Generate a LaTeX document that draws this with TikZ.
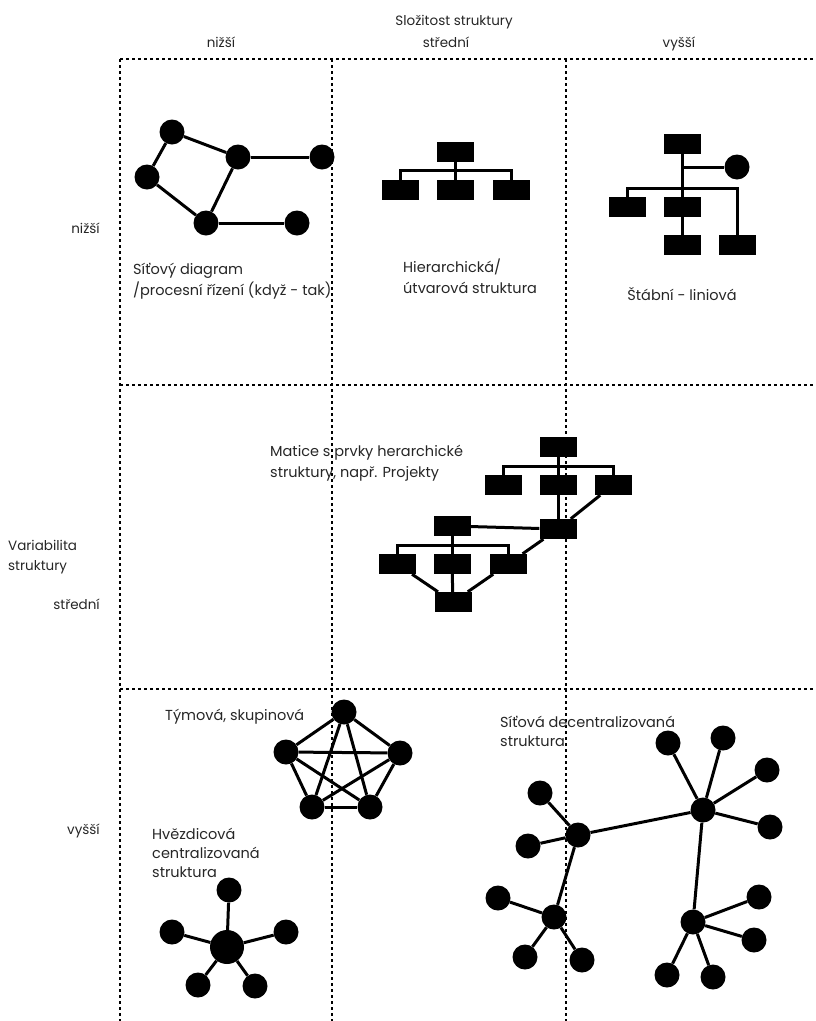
\documentclass[tikz,border=0pt]{standalone}
\usepackage{fontspec}
\setmainfont{Poppins}
\usetikzlibrary{positioning}

\begin{document}
\begin{tikzpicture}[x=1pt, y=-1pt,
  grid/.style={line width=1.3pt, dash pattern=on 3pt off 3pt},
  edge/.style={line width=3pt},
  dot/.style={circle, fill=black, inner sep=0pt, minimum size=25pt},
  bigdot/.style={dot, minimum size=34pt},
  box/.style={rectangle, fill=black, inner sep=0pt, minimum width=37pt, minimum height=20pt},
  lbl/.style={font=\fontsize{14.5}{21}\selectfont, text=black!85, inner sep=0pt, align=left, anchor=base west},
  head/.style={font=\fontsize{13.5}{20}\selectfont, text=black!85, inner sep=0pt, anchor=base}]
\useasboundingbox (0,0) rectangle (816,1021);

% grid
\draw[grid] (120,59) -- (816,59);
\draw[grid] (120,385) -- (816,385);
\draw[grid] (120,689) -- (816,689);
\draw[grid] (120,59) -- (120,1021);
\draw[grid] (332,59) -- (332,1021);
\draw[grid] (566,59) -- (566,1021);

% headings
\node[head] (slozitost) at (454,25) {Složitost struktury};
\node[head] (colA) at (221,47) {nižší};
\node[head] (colB) at (446,47) {střední};
\node[head] (colC) at (679,47) {vyšší};
\node[head, anchor=base east] (rowA) at (100,233) {nižší};
\node[head, align=left, anchor=base west] (variabilita) at (8,570) {Variabilita\\struktury};
\node[head, anchor=base east] (rowB) at (100,609) {střední};
\node[head, anchor=base east] (rowC) at (100,834) {vyšší};

% network diagram
\node[dot] (n1) at (172,132) {};
\node[dot] (n2) at (238,157) {};
\node[dot] (n3) at (322,157) {};
\node[dot] (n4) at (147,177) {};
\node[dot] (n5) at (206,223) {};
\node[dot] (n6) at (297,223) {};
\foreach \a/\b in {n1/n2, n2/n3, n1/n4, n4/n5, n5/n2, n5/n6}
  \draw[edge] (\a) -- (\b);
\node[lbl] (sitovy) at (133,295) {Síťový diagram\\/procesní řízení (když - tak)};

% hierarchy
\node[box] (ht) at (455,152) {};
\node[box] (hl) at (400,190) {};
\node[box] (hm) at (455,190) {};
\node[box] (hr) at (511,190) {};
\coordinate (hbus) at (455,170);
\draw[edge] (ht) -- (hm);
\draw[edge] (hl.north) |- (hbus) -| (hr.north);
\node[lbl] (hierarch) at (403,293) {Hierarchická/\\útvarová struktura};

% staff-line
\node[box] (st) at (682,144) {};
\node[dot] (sc) at (737,167) {};
\node[box] (sl) at (627,207) {};
\node[box] (sm) at (682,207) {};
\node[box] (sb) at (682,245) {};
\node[box] (sr) at (737,245) {};
\coordinate (sbus) at (682,188);
\draw[edge] (st) -- (sm);
\draw[edge] (sm) -- (sb);
\draw[edge] (st.south |- sc) -- (sc);
\draw[edge] (sl.north) |- (sbus) -| (sr.north);
\node[lbl, anchor=base] (stabni) at (682,300) {Štábní - liniová};

% matrix
\node[box] (ma) at (558,447) {};
\node[box] (mb1) at (503,485) {};
\node[box] (mb2) at (558,485) {};
\node[box] (mb3) at (613,485) {};
\node[box] (mk) at (558,529) {};
\node[box] (mc) at (452,526) {};
\node[box] (md1) at (397,564) {};
\node[box] (md2) at (452,564) {};
\node[box] (md3) at (508,564) {};
\node[box] (me) at (453,602) {};
\coordinate (mbus1) at (558,466);
\coordinate (mbus2) at (452,545);
\draw[edge] (ma) -- (mb2);
\draw[edge] (mb1.north) |- (mbus1) -| (mb3.north);
\draw[edge] (mb2) -- (mk);
\draw[edge] (mb3) -- (mk);
\draw[edge] (mc) -- (mk);
\draw[edge] (mc) -- (md2);
\draw[edge] (md1.north) |- (mbus2) -| (md3.north);
\draw[edge] (mk) -- (md3);
\foreach \a in {md1, md2, md3}
  \draw[edge] (\a) -- (me);
\node[lbl] (matice) at (270,477) {Matice s prvky herarchické\\struktury, např. Projekty};

% team
\node[dot] (tp1) at (344,712) {};
\node[dot] (tp2) at (286,752) {};
\node[dot] (tp3) at (400,753) {};
\node[dot] (tp4) at (312,807) {};
\node[dot] (tp5) at (370,807) {};
\foreach \a/\b in {tp1/tp2, tp1/tp3, tp1/tp4, tp1/tp5, tp2/tp3, tp2/tp4, tp2/tp5, tp3/tp4, tp3/tp5, tp4/tp5}
  \draw[edge] (\a) -- (\b);
\node[lbl] (tymova) at (165,720) {Týmová, skupinová};

% star
\node[bigdot] (sz) at (227,947) {};
\node[dot] (sz1) at (229,890) {};
\node[dot] (sz2) at (172,932) {};
\node[dot] (sz3) at (286,932) {};
\node[dot] (sz4) at (198,985) {};
\node[dot] (sz5) at (255,986) {};
\foreach \a in {sz1, sz2, sz3, sz4, sz5}
  \draw[edge] (sz) -- (\a);
\node[lbl, font=\fontsize{14.5}{19}\selectfont] (hvezdic) at (152,877) {Hvězdicová\\centralizovaná\\struktura};

% decentralised network
\node[dot] (hub1) at (578,835) {};
\node[dot] (hub2) at (703,810) {};
\node[dot] (hub3) at (554,917) {};
\node[dot] (hub4) at (693,922) {};
\node[dot] (la1) at (540,793) {};
\node[dot] (la2) at (528,846) {};
\node[dot] (lb1) at (668,743) {};
\node[dot] (lb2) at (723,738) {};
\node[dot] (lb3) at (767,770) {};
\node[dot] (lb4) at (770,827) {};
\node[dot] (lc1) at (498,898) {};
\node[dot] (lc2) at (525,957) {};
\node[dot] (lc3) at (582,960) {};
\node[dot] (ld1) at (759,897) {};
\node[dot] (ld2) at (754,940) {};
\node[dot] (ld3) at (667,975) {};
\node[dot] (ld4) at (713,977) {};
\draw[edge] (hub1) -- (hub2);
\draw[edge] (hub1) -- (hub3);
\draw[edge] (hub2) -- (hub4);
\foreach \a/\b in {hub1/la1, hub1/la2, hub2/lb1, hub2/lb2, hub2/lb3, hub2/lb4, hub3/lc1, hub3/lc2, hub3/lc3, hub4/ld1, hub4/ld2, hub4/ld3, hub4/ld4}
  \draw[edge] (\a) -- (\b);
\node[lbl, font=\fontsize{14.5}{19}\selectfont] (sitova) at (500,746) {Síťová decentralizovaná\\struktura};
\end{tikzpicture}
\end{document}
